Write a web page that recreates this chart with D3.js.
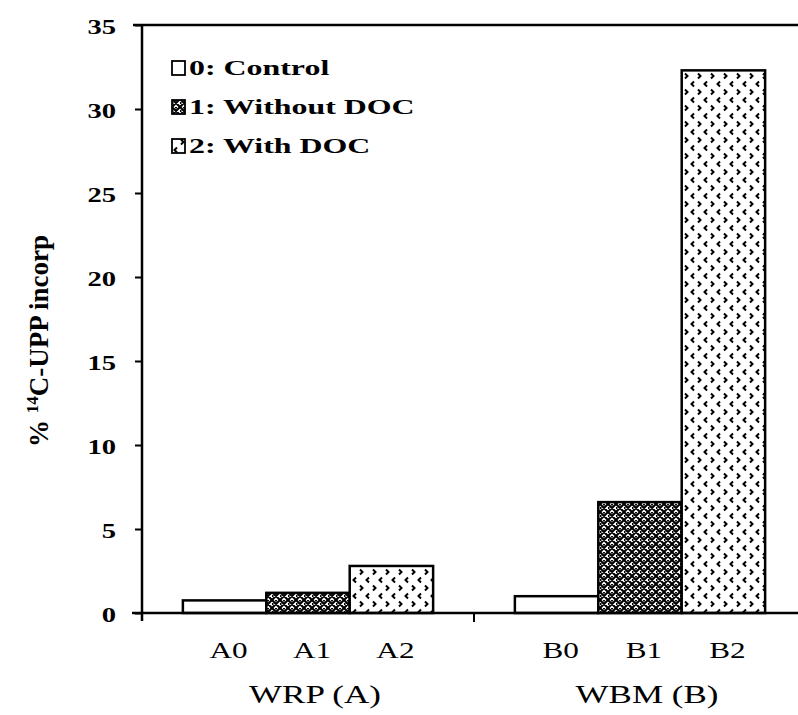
<!DOCTYPE html>
<html>
<head>
<meta charset="utf-8">
<script src="https://cdn.jsdelivr.net/npm/d3@7"></script>
<style>
  html, body { margin: 0; padding: 0; background: #fff; }
  svg { display: block; }
  text { font-family: "Liberation Serif", "DejaVu Serif", serif; fill: #000; }
</style>
</head>
<body>
<svg id="chart" width="798" height="715"></svg>
<script>
// Sites (x groups) and treatments (series within each group)
const groups = ["WRP (A)", "WBM (B)"];
const groupCodes = ["A", "B"];
const treatments = ["0: Control", "1: Without DOC", "2: With DOC"];
const treatmentCodes = ["0", "1", "2"];

// % 14C-UPP incorporated, one array per treatment, ordered as groups
const controlValues = [0.75, 1.0];
const withoutDocValues = [1.2, 6.6];
const withDocValues = [2.8, 32.3];

const yTicks = [0, 5, 10, 15, 20, 25, 30, 35];

const seriesValues = [controlValues, withoutDocValues, withDocValues];
const rows = [];
groups.forEach((g, gi) => {
  treatments.forEach((t, ti) => {
    rows.push({ group: g, treatment: t, label: groupCodes[gi] + treatmentCodes[ti], value: seriesValues[ti][gi] });
  });
});

const svg = d3.select("#chart");
const defs = svg.append("defs");

// Fill patterns: plain, dense diamond lattice, scattered chevrons
const lattice = defs.append("pattern").attr("id", "pat-lattice")
  .attr("patternUnits", "userSpaceOnUse").attr("width", 8).attr("height", 8);
lattice.append("rect").attr("width", 8).attr("height", 8).attr("fill", "#fff");
lattice.append("path").attr("d", "M0,0L8,8M8,0L0,8M-2,6L2,10M6,-2L10,2M-2,2L2,-2M6,10L10,6")
  .attr("stroke", "#000").attr("stroke-width", 2.1).attr("fill", "none");
lattice.append("rect").attr("x", 3).attr("y", 0).attr("width", 2).attr("height", 1.5).attr("fill", "#000");
lattice.append("rect").attr("x", 0).attr("y", 3).attr("width", 1.5).attr("height", 2).attr("fill", "#000");

const chev = defs.append("pattern").attr("id", "pat-chevron")
  .attr("patternUnits", "userSpaceOnUse").attr("width", 13).attr("height", 16);
chev.append("rect").attr("width", 13).attr("height", 16).attr("fill", "#fff");
chev.append("path").attr("d", "M5,1.5L2.5,4L5,6.5").attr("stroke", "#000").attr("stroke-width", 2).attr("fill", "none");
chev.append("path").attr("d", "M9,9.5L11.5,12L9,14.5").attr("stroke", "#000").attr("stroke-width", 2).attr("fill", "none");

const fills = { "0: Control": "#fff", "1: Without DOC": "url(#pat-lattice)", "2: With DOC": "url(#pat-chevron)" };

// Scales
const x0 = d3.scaleBand().domain(groups).range([142, 806]).paddingInner(0).paddingOuter(0);
const x1 = d3.scaleBand().domain(treatments).range([0, x0.bandwidth()]).paddingInner(0).paddingOuter(0.49);
const y = d3.scaleLinear().domain([0, 35]).range([613, 25]);

// Bars
const gBars = svg.append("g");
gBars.selectAll("rect").data(rows).join("rect")
  .attr("x", d => x0(d.group) + x1(d.treatment))
  .attr("y", d => y(d.value))
  .attr("width", x1.bandwidth())
  .attr("height", d => y(0) - y(d.value))
  .attr("fill", d => fills[d.treatment])
  .attr("stroke", "#000").attr("stroke-width", 2.5);

// Top frame line
svg.append("line").attr("x1", 133).attr("x2", 798).attr("y1", y(35)).attr("y2", y(35))
  .attr("stroke", "#000").attr("stroke-width", 2.5);

// Y axis
const yAxis = svg.append("g").attr("transform", "translate(142,0)")
  .call(d3.axisLeft(y).tickValues(yTicks).tickSize(7).tickPadding(0).tickFormat(d3.format("d")));
yAxis.select(".domain").attr("stroke-width", 2.5).attr("d", `M0,${y(35)}V${y(0) + 8}`);
yAxis.selectAll(".tick line").attr("stroke-width", 2);
yAxis.selectAll(".tick text")
  .attr("x", null).attr("dy", null)
  .attr("text-anchor", "end")
  .attr("font-family", "Liberation Serif").attr("font-weight", "bold").attr("font-size", 22)
  .attr("transform", "translate(-26,8) scale(1.3,1)");

// X axis line and group divider ticks
svg.append("line").attr("x1", 132).attr("x2", 798).attr("y1", y(0)).attr("y2", y(0))
  .attr("stroke", "#000").attr("stroke-width", 2.5);
svg.append("g").selectAll("line").data(groups).join("line")
  .attr("x1", d => x0(d) + x0.bandwidth()).attr("x2", d => x0(d) + x0.bandwidth())
  .attr("y1", y(0)).attr("y2", y(0) + 9)
  .attr("stroke", "#000").attr("stroke-width", 2);

// Bar code labels
svg.append("g").selectAll("text").data(rows).join("text")
  .attr("text-anchor", "middle").attr("font-size", 24)
  .attr("transform", d => `translate(${x0(d.group) + x1(d.treatment) + x1.bandwidth() / 2 + 4},658) scale(1.3,1)`)
  .text(d => d.label);

// Group labels
svg.append("g").selectAll("text").data(groups).join("text")
  .attr("text-anchor", "middle").attr("font-size", 25)
  .attr("transform", d => `translate(${x0(d) + x0.bandwidth() / 2 + 7},703) scale(1.4,1)`)
  .text(d => d);

// Y axis title
const yt = svg.append("text")
  .attr("transform", "translate(48,341) rotate(-90)")
  .attr("text-anchor", "middle").attr("font-weight", "bold").attr("font-size", 27);
yt.append("tspan").text("% ");
yt.append("tspan").attr("font-size", 17).attr("dy", -10).text("14");
yt.append("tspan").attr("dy", 10).text("C-UPP incorp");

// Legend
const legend = svg.append("g").selectAll("g").data(treatments).join("g")
  .attr("transform", (d, i) => `translate(172,${68 + i * 39})`);
legend.append("rect").attr("x", 0).attr("y", -7).attr("width", 13).attr("height", 14)
  .attr("fill", d => fills[d]).attr("stroke", "#000").attr("stroke-width", 1.8);
legend.append("text")
  .attr("font-weight", "bold").attr("font-size", 22)
  .attr("transform", "translate(17,7) scale(1.45,1)")
  .text(d => d);
</script>
</body>
</html>
